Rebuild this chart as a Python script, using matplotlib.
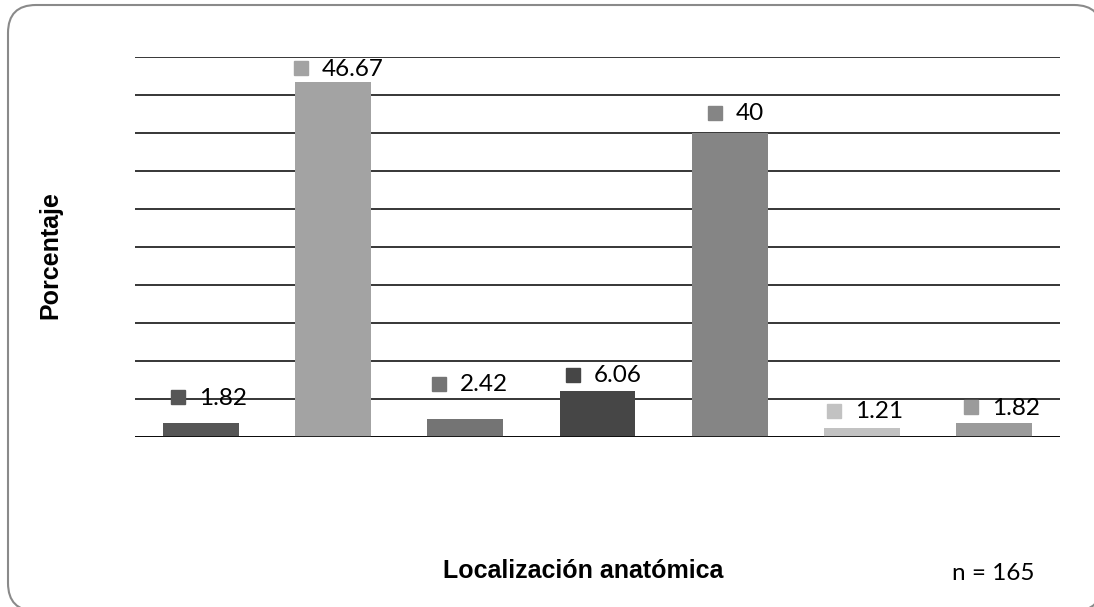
import matplotlib.pyplot as plt
from matplotlib.patches import FancyBboxPatch
from matplotlib.transforms import offset_copy

# porcentaje por localización anatómica (n = 165)
categorias = ["1", "2", "3", "4", "5", "6", "7"]
porcentajes = [1.82, 46.67, 2.42, 6.06, 40, 1.21, 1.82]
colores = ["#565656", "#a3a3a3", "#747474", "#464646", "#858585", "#c2c2c2", "#9b9b9b"]

# desplazamiento de cada etiqueta respecto al tope de la barra (pixeles)
etiqueta_dx = [-23, -32, -26, -25, -15, -28, -23]
etiqueta_dy = [26, 14, 35, 16, 20, 17, 16]

fig = plt.figure(figsize=(10.94, 6.07), dpi=100)
fig.patch.set_visible(False)
ax = fig.add_axes([135 / 1094, 1 - 437 / 607, 925 / 1094, 380 / 607])
ax.patch.set_visible(False)

x = list(range(len(categorias)))
ax.bar(x, porcentajes, width=0.575, color=colores, zorder=3)

ax.set_xlim(-0.5, len(categorias) - 0.5)
ax.set_ylim(0, 50)
ax.set_yticks(range(0, 51, 5))
ax.yaxis.grid(True, color="black", linewidth=1.1, zorder=0)
ax.set_xticks([])
ax.tick_params(left=False, labelleft=False)
for s in ax.spines.values():
    s.set_visible(False)
ax.axhline(0, color="black", linewidth=1.1, zorder=4)

# etiquetas: cuadrito del color de la barra + valor
for xi, v, c, dx, dy in zip(x, porcentajes, colores, etiqueta_dx, etiqueta_dy):
    tr = offset_copy(ax.transData, fig=fig, x=dx, y=dy, units="dots")
    ax.plot([xi], [v], marker="s", markersize=10.5, color=c,
            linestyle="none", transform=tr, zorder=5, clip_on=False)
    ax.annotate(f"{v:g}", (xi, v), xytext=(dx + 21, dy - 1), textcoords="offset pixels",
                ha="left", va="center", fontsize=17.5, family="Lato",
                color="black", zorder=6, annotation_clip=False)

fig.text(50 / 1094, 1 - 255 / 607, "Porcentaje", rotation=90, ha="center", va="center",
         fontsize=18, fontweight="bold", family="Liberation Sans")
fig.text(583 / 1094, 1 - 571 / 607, "Localización anatómica", ha="center", va="center",
         fontsize=18, fontweight="bold", family="Liberation Sans")
fig.text(993 / 1094, 1 - 574 / 607, "n = 165", ha="center", va="center",
         fontsize=17.5, family="Lato")

# marco redondeado del área del gráfico (relleno blanco, detrás de los ejes)
marco = FancyBboxPatch((8, -4), 1094, 606, boxstyle="round,pad=0,rounding_size=28",
                       transform=None, facecolor="white", edgecolor="#8a8a8a",
                       linewidth=1.5, clip_on=False, zorder=-1)
fig.patches.append(marco)

fig.savefig("out.png", dpi=100, facecolor="white")
